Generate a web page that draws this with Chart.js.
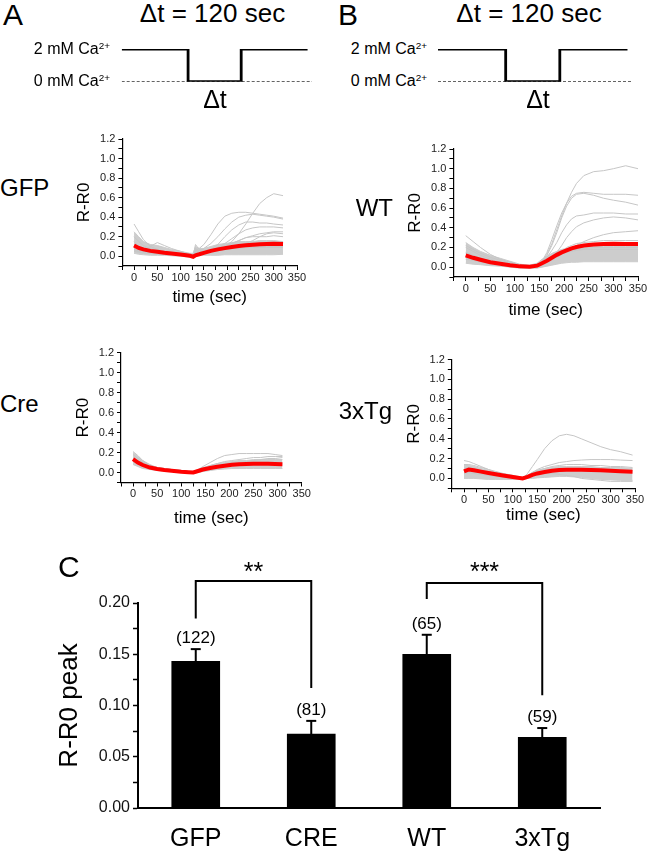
<!DOCTYPE html>
<html><head><meta charset="utf-8">
<script src="https://cdn.jsdelivr.net/npm/chart.js@4.4.1/dist/chart.umd.min.js"></script>
<style>
html,body{margin:0;padding:0;background:#fff;}
#page{position:relative;width:650px;height:853px;overflow:hidden;font-family:'Liberation Sans',Arial,sans-serif;color:#000;}
#page canvas{position:absolute;}
.t{position:absolute;white-space:nowrap;line-height:1;}
.sup{font-size:0.62em;position:relative;top:-0.55em;}
</style></head><body><div id="page"></div>
<script>
// ---------- protocol ----------
const protoTime = [0,150,150,270,270,420];
const protoCa   = [2,2,0,0,2,2];
const baseTime  = [0,430];
const baseCa    = [0,0];

// ---------- GFP ----------
const tGFP = [0,10,20,35,50,65,80,100,120,127,132,140,150,165,180,195,210,225,240,255,270,285,300,320];
const gfpMean = [0.11,0.085,0.07,0.055,0.045,0.035,0.028,0.017,0.005,-0.005,0.01,0.02,0.035,0.055,0.07,0.083,0.095,0.105,0.112,0.118,0.122,0.126,0.128,0.125];
const gfpLo = [0.03,0.02,0.015,0.01,0.01,0.01,0.005,0.0,-0.01,-0.01,0.0,0.01,0.01,0.01,0.01,0.015,0.015,0.015,0.015,0.015,0.015,0.015,0.015,0.02];
const gfpHi = [0.25,0.2,0.15,0.12,0.11,0.09,0.07,0.05,0.03,0.03,0.1,0.08,0.08,0.1,0.12,0.13,0.14,0.15,0.15,0.15,0.16,0.16,0.16,0.15];
const gfp1 = [0.1,0.07,0.05,0.04,0.03,0.03,0.02,0.01,0.0,0.0,0.05,0.04,0.05,0.06,0.07,0.1,0.15,0.23,0.33,0.44,0.54,0.6,0.64,0.62];
const gfp2 = [0.12,0.09,0.07,0.05,0.04,0.035,0.03,0.02,0.01,0.0,0.06,0.08,0.12,0.22,0.33,0.41,0.44,0.45,0.45,0.44,0.43,0.42,0.41,0.39];
const gfp3 = [0.08,0.06,0.05,0.04,0.04,0.03,0.02,0.01,0.0,0.0,0.05,0.05,0.08,0.13,0.2,0.28,0.35,0.4,0.42,0.43,0.42,0.41,0.4,0.38];
const gfp4 = [0.06,0.05,0.04,0.03,0.03,0.02,0.02,0.01,0.0,0.0,0.04,0.04,0.05,0.07,0.12,0.2,0.27,0.32,0.35,0.35,0.34,0.34,0.33,0.32];
const gfp5 = [0.05,0.04,0.03,0.03,0.02,0.02,0.02,0.01,0.0,0.0,0.03,0.03,0.04,0.06,0.09,0.13,0.18,0.23,0.27,0.29,0.3,0.3,0.3,0.29];
const gfp6 = [0.07,0.05,0.04,0.03,0.03,0.02,0.02,0.01,0.0,0.0,0.04,0.04,0.05,0.06,0.08,0.1,0.13,0.16,0.19,0.21,0.23,0.24,0.25,0.25];
const gfp7 = [0.09,0.07,0.05,0.04,0.03,0.02,0.02,0.01,0.0,0.0,0.06,0.05,0.05,0.05,0.06,0.07,0.08,0.1,0.13,0.16,0.2,0.23,0.24,0.23];
const gfp8 = [0.33,0.25,0.17,0.1,0.07,0.05,0.04,0.02,0.01,0.0,0.04,0.04,0.05,0.06,0.07,0.08,0.09,0.1,0.1,0.1,0.1,0.1,0.1,0.1];
const gfp9 = [0.15,0.1,0.07,0.1,0.14,0.11,0.08,0.05,0.02,0.0,0.08,0.05,0.05,0.05,0.06,0.07,0.08,0.08,0.09,0.09,0.09,0.09,0.09,0.09];
const gfp10 = [0.2,0.15,0.11,0.08,0.06,0.05,0.04,0.03,0.01,0.0,0.12,0.07,0.06,0.07,0.09,0.11,0.13,0.16,0.19,0.2,0.2,0.2,0.21,0.2];

// ---------- WT ----------
const tWT = [0,15,30,50,70,90,110,130,145,155,165,175,185,195,205,215,225,240,260,280,300,325,350];
const wtMean = [0.12,0.095,0.075,0.05,0.035,0.02,0.008,0.005,0.015,0.04,0.065,0.095,0.125,0.15,0.17,0.19,0.205,0.22,0.23,0.235,0.237,0.235,0.235];
const wtLo = [0.04,0.03,0.025,0.015,0.01,0.0,-0.01,-0.01,-0.01,0.0,0.01,0.02,0.03,0.04,0.045,0.05,0.05,0.055,0.055,0.055,0.055,0.055,0.055];
const wtHi = [0.25,0.2,0.16,0.12,0.09,0.06,0.03,0.02,0.04,0.08,0.11,0.14,0.16,0.18,0.19,0.2,0.2,0.21,0.21,0.21,0.21,0.21,0.21];
const wt1 = [0.15,0.12,0.09,0.06,0.04,0.02,0.01,0.0,0.02,0.06,0.13,0.24,0.38,0.52,0.65,0.76,0.85,0.93,0.97,0.98,1.0,1.03,1.0];
const wt2 = [0.2,0.16,0.12,0.08,0.05,0.03,0.01,0.0,0.02,0.06,0.15,0.28,0.42,0.55,0.65,0.72,0.75,0.76,0.75,0.74,0.74,0.74,0.73];
const wt3 = [0.1,0.08,0.06,0.04,0.03,0.02,0.01,0.0,0.02,0.05,0.12,0.22,0.35,0.5,0.62,0.7,0.74,0.75,0.73,0.7,0.68,0.66,0.63];
const wt4 = [0.12,0.09,0.07,0.05,0.03,0.02,0.01,0.0,0.02,0.05,0.1,0.17,0.25,0.35,0.43,0.49,0.52,0.53,0.55,0.55,0.55,0.54,0.54];
const wt5 = [0.08,0.07,0.05,0.04,0.03,0.02,0.01,0.0,0.01,0.03,0.06,0.1,0.15,0.22,0.3,0.36,0.41,0.45,0.48,0.5,0.51,0.5,0.48];
const wt6 = [0.1,0.08,0.06,0.04,0.03,0.02,0.01,0.0,0.01,0.03,0.05,0.07,0.1,0.13,0.16,0.19,0.22,0.26,0.3,0.33,0.35,0.36,0.37];
const wt7 = [0.14,0.11,0.08,0.06,0.04,0.02,0.01,0.0,0.02,0.04,0.07,0.1,0.12,0.16,0.2,0.22,0.24,0.25,0.26,0.27,0.27,0.27,0.27];
const wt8 = [0.32,0.26,0.2,0.13,0.08,0.05,0.02,0.01,0.01,0.03,0.06,0.09,0.12,0.14,0.16,0.17,0.18,0.19,0.2,0.2,0.2,0.2,0.2];
const wt9 = [0.22,0.18,0.14,0.1,0.07,0.04,0.02,0.01,0.02,0.05,0.08,0.1,0.12,0.14,0.15,0.16,0.17,0.18,0.18,0.18,0.18,0.18,0.18];

// ---------- Cre ----------
const tCre = [0,10,20,35,50,65,80,100,115,125,135,145,160,175,190,205,220,235,250,265,280,295,310];
const creMean = [0.135,0.1,0.075,0.05,0.035,0.025,0.018,0.008,0.003,0.0,0.015,0.03,0.045,0.058,0.068,0.078,0.083,0.086,0.088,0.088,0.087,0.086,0.084];
const creLo = [0.08,0.06,0.04,0.03,0.02,0.015,0.01,0.0,-0.005,-0.01,0.0,0.01,0.02,0.03,0.035,0.04,0.04,0.04,0.04,0.04,0.04,0.04,0.04];
const creHi = [0.2,0.16,0.12,0.08,0.05,0.04,0.03,0.02,0.01,0.01,0.03,0.05,0.07,0.09,0.1,0.11,0.12,0.12,0.13,0.13,0.13,0.13,0.13];
const cre1 = [0.21,0.17,0.12,0.07,0.05,0.04,0.03,0.02,0.01,0.0,0.03,0.06,0.1,0.14,0.17,0.18,0.19,0.19,0.19,0.19,0.19,0.18,0.17];
const cre2 = [0.18,0.14,0.1,0.07,0.05,0.04,0.03,0.02,0.01,0.0,0.02,0.04,0.07,0.09,0.11,0.12,0.13,0.14,0.15,0.15,0.16,0.16,0.16];
const cre3 = [0.15,0.12,0.09,0.06,0.04,0.03,0.02,0.01,0.0,0.0,0.02,0.03,0.05,0.07,0.08,0.09,0.1,0.11,0.12,0.13,0.14,0.14,0.15];

// ---------- 3xTg ----------
const tTg = [0,10,20,35,50,65,80,100,120,130,140,150,165,180,195,210,225,240,260,280,300,320,345];
const tgMean = [0.07,0.09,0.082,0.068,0.055,0.042,0.03,0.015,0.0,0.015,0.035,0.05,0.065,0.077,0.084,0.087,0.087,0.086,0.085,0.082,0.078,0.073,0.068];
const tgLo = [0.0,0.0,0.0,-0.005,-0.01,-0.01,-0.01,-0.01,-0.01,0.0,0.0,0.005,0.01,0.015,0.02,0.02,0.015,0.01,0.0,-0.01,-0.015,-0.02,-0.02];
const tgHi = [0.13,0.13,0.12,0.1,0.08,0.06,0.045,0.03,0.01,0.03,0.06,0.08,0.1,0.11,0.12,0.12,0.12,0.12,0.12,0.11,0.11,0.11,0.1];
const tg1 = [0.1,0.11,0.1,0.08,0.06,0.04,0.03,0.02,0.0,0.05,0.12,0.19,0.3,0.38,0.43,0.445,0.43,0.4,0.36,0.32,0.29,0.27,0.235];
const tg2 = [0.18,0.17,0.15,0.12,0.09,0.06,0.04,0.02,0.0,0.03,0.06,0.09,0.12,0.14,0.16,0.17,0.18,0.185,0.19,0.19,0.19,0.185,0.18];
const tg3 = [0.05,0.06,0.05,0.04,0.03,0.02,0.01,0.0,0.0,0.02,0.03,0.04,0.05,0.05,0.04,0.03,0.02,0.0,-0.01,-0.02,-0.03,-0.03,-0.03];
const tg4 = [0.14,0.14,0.13,0.11,0.09,0.07,0.05,0.03,0.0,0.03,0.06,0.08,0.1,0.12,0.13,0.14,0.14,0.14,0.13,0.13,0.12,0.12,0.11];

// ---------- bar chart C ----------
const barLabels = ['GFP','CRE','WT','3xTg'];
const barMeans  = [0.143,0.072,0.150,0.069];
const barSEM    = [0.012,0.013,0.019,0.009];
const barN      = ['(122)','(81)','(65)','(59)'];
const bracketPairs = [[0,1],[2,3]];
const bracketTop   = [0.2215,0.2195];
const bracketLegs  = [[0.185,0.117],[0.204,0.110]];
const bracketStars = ['**','***'];
const starLevel    = 0.236;

Chart.defaults.font.family = "'Liberation Sans', Arial, sans-serif";
Chart.defaults.color = '#000';

const page = document.getElementById('page');
function addCanvas(l,t,w,h){
  const c=document.createElement('canvas');
  c.width=w; c.height=h;
  c.style.left=l+'px'; c.style.top=t+'px';
  c.style.width=w+'px'; c.style.height=h+'px';
  page.appendChild(c); return c;
}
function txt(html,x,base,fs,align){
  const d=document.createElement('div');
  d.className='t'; d.innerHTML=html;
  d.style.fontSize=fs+'px';
  d.style.top=(base-0.8465*fs)+'px';
  d.style.left=x+'px';
  if(align==='center') d.style.transform='translateX(-50%)';
  else if(align==='right') d.style.transform='translateX(-100%)';
  page.appendChild(d);
}

// protocol traces
function protoChart(l,t,w,h,pad){
  new Chart(addCanvas(l,t,w,h),{
    type:'line',
    data:{datasets:[
      {data:protoTime.map((x,i)=>({x,y:protoCa[i]})),borderColor:'#000',borderWidth:2.8,borderJoinStyle:'miter',borderCapStyle:'butt',order:0},
      {data:baseTime.map((x,i)=>({x,y:baseCa[i]})),borderColor:'#000',borderWidth:1,borderDash:[3,2],order:1}
    ]},
    options:{responsive:false,animation:false,layout:{padding:pad},
      plugins:{legend:{display:false},tooltip:{enabled:false}},
      elements:{point:{radius:0},line:{tension:0}},
      scales:{x:{type:'linear',display:false,min:0,max:430},y:{type:'linear',display:false,min:0,max:2}}}
  });
}
protoChart(110,30,210,70,{left:11.7,right:8,top:19,bottom:18.3});
protoChart(430,30,210,70,{left:8,right:8,top:19,bottom:18.3});

// small trace charts
function traceChart(area,t,mean,lo,hi,traces,gap){
  const yW=48;
  const left=Math.round(area.l-15-yW), top=Math.round(area.t-20);
  const right=Math.round(area.r+35), bottom=Math.round(area.b+56);
  const w=right-left, h=bottom-top;
  const padL=area.l-yW-left, padT=area.t-top, padR=right-area.r, xH=bottom-area.b;
  const pts=v=>t.map((x,i)=>({x,y:v[i]}));
  const ds=[{data:pts(mean),borderColor:'#ff0000',borderWidth:4,order:0}];
  traces.forEach(tr=>ds.push({data:pts(tr),borderColor:'#c6c6c6',borderWidth:1,order:1}));
  const loIdx=ds.length;
  ds.push({data:pts(lo),borderColor:'#cbcbcb',borderWidth:1,order:3});
  ds.push({data:pts(hi),borderColor:'#cbcbcb',borderWidth:1,backgroundColor:'#cdcdcd',fill:{target:loIdx},order:2});
  const axisCommon={
    border:{color:'#000',width:1.2},
    grid:{drawOnChartArea:false,drawTicks:true,tickLength:4,tickColor:'#000',tickWidth:1}
  };
  new Chart(addCanvas(left,top,w,h),{
    type:'line',
    data:{datasets:ds},
    options:{responsive:false,animation:false,
      layout:{padding:{left:padL,top:padT,right:padR,bottom:0}},
      plugins:{legend:{display:false},tooltip:{enabled:false}},
      elements:{point:{radius:0},line:{tension:0}},
      scales:{
        x:Object.assign({type:'linear',min:-25,max:350,afterFit:s=>{s.height=xH;},
          ticks:{stepSize:25,maxTicksLimit:60,autoSkip:false,maxRotation:0,minRotation:0,padding:1,color:'#222',font:{size:11},
            callback:v=>(v>=0&&v%50===0)?String(v):''},
          title:{display:true,text:'time (sec)',font:{size:17},color:'#000',padding:{top:0,bottom:xH-10.2-gap}}},axisCommon),
        y:Object.assign({type:'linear',min:-0.1,max:1.2,afterFit:s=>{s.width=yW;},
          ticks:{stepSize:0.1,maxTicksLimit:60,autoSkip:false,padding:3,color:'#222',font:{size:11},
            callback:v=>{const k=Math.round(v*10);return (k>=0&&k%2===0)?(k/10).toFixed(1):'';}},
          title:{display:true,text:'R-R0',font:{size:17},color:'#000',padding:{top:0,bottom:0}}},axisCommon)
      }}
  });
}
traceChart({l:122.4,r:297,t:139,b:266},tGFP,gfpMean,gfpLo,gfpHi,[gfp1,gfp2,gfp3,gfp4,gfp5,gfp6,gfp7,gfp8,gfp9,gfp10],31);
traceChart({l:453.4,r:638,t:149,b:277},tWT,wtMean,wtLo,wtHi,[wt1,wt2,wt3,wt4,wt5,wt6,wt7,wt8,wt9],33);
traceChart({l:121,r:301.7,t:352.7,b:482.5},tCre,creMean,creLo,creHi,[cre1,cre2,cre3],36);
traceChart({l:451.8,r:635,t:359.5,b:488.3},tTg,tgMean,tgLo,tgHi,[tg1,tg2,tg3,tg4],27);

// bar chart annotations plugin
const annot={id:'annot',afterDatasetsDraw(chart){
  const {ctx,scales:{x,y}}=chart;
  ctx.save();
  ctx.strokeStyle='#000'; ctx.fillStyle='#000'; ctx.lineWidth=2;
  const seg=(x1,y1,x2,y2)=>{ctx.beginPath();ctx.moveTo(x1,y1);ctx.lineTo(x2,y2);ctx.stroke();};
  ctx.textAlign='center'; ctx.textBaseline='alphabetic';
  barMeans.forEach((m,i)=>{
    const cx=x.getPixelForValue(i), y0=y.getPixelForValue(m), y1=y.getPixelForValue(m+barSEM[i]);
    seg(cx,y0,cx,y1); seg(cx-5,y1,cx+5,y1);
    ctx.font="17px 'Liberation Sans', Arial, sans-serif";
    ctx.fillText(barN[i],cx,y1-6);
  });
  ctx.lineJoin='miter';
  bracketPairs.forEach((p,k)=>{
    const xa=x.getPixelForValue(p[0]), xb=x.getPixelForValue(p[1]);
    const yt=y.getPixelForValue(bracketTop[k]);
    ctx.beginPath();
    ctx.moveTo(xa,y.getPixelForValue(bracketLegs[k][0]));
    ctx.lineTo(xa,yt); ctx.lineTo(xb,yt);
    ctx.lineTo(xb,y.getPixelForValue(bracketLegs[k][1]));
    ctx.stroke();
    const fs=25;
    ctx.font=fs+"px 'Liberation Sans', Arial, sans-serif";
    ctx.fillText(bracketStars[k],(xa+xb)/2,y.getPixelForValue(starLevel)+0.57*fs);
  });
  ctx.restore();
}};

new Chart(addCanvas(0,540,650,313),{
  type:'bar',
  data:{labels:barLabels,datasets:[{data:barMeans,backgroundColor:'#000',barThickness:48}]},
  options:{responsive:false,animation:false,
    layout:{padding:{left:50,top:63,right:50,bottom:0}},
    plugins:{legend:{display:false},tooltip:{enabled:false}},
    scales:{
      x:{afterFit:s=>{s.height=45;},border:{color:'#000',width:2},grid:{display:false},
        ticks:{padding:8,color:'#000',font:{size:25}}},
      y:{min:0,max:0.2,afterFit:s=>{s.width=88;},border:{color:'#000',width:2},
        grid:{drawOnChartArea:false,drawTicks:true,tickLength:5,tickColor:'#000',tickWidth:1.5},
        ticks:{stepSize:0.025,maxTicksLimit:50,autoSkip:false,padding:3,color:'#111',font:{size:16},
          callback:v=>{const k=Math.round(v*40);return k%2===0?(k/40).toFixed(2):'';}},
        title:{display:true,text:'R-R0 peak',font:{size:26},color:'#000',padding:{top:4,bottom:0}}}
    }},
  plugins:[annot]
});

// text labels
const ca2='mM Ca<span class="sup">2+</span>';
txt('A',3,25,30,'left');
txt('\u0394t = 120 sec',212.5,22,26,'center');
txt('2 '+ca2,110,54.5,16,'right');
txt('0 '+ca2,110,87,16,'right');
txt('\u0394t',215,108,25,'center');
txt('B',338,25,30,'left');
txt('\u0394t = 120 sec',529,22,26,'center');
txt('2 '+ca2,427,54.5,16,'right');
txt('0 '+ca2,427,87,16,'right');
txt('\u0394t',538,108,25,'center');
txt('GFP',0,196,24,'left');
txt('Cre',0,412,24,'left');
txt('WT',393,216,24,'right');
txt('3xTg',392,419,24,'right');
txt('C',58,577,30,'left');
</script></body></html>
